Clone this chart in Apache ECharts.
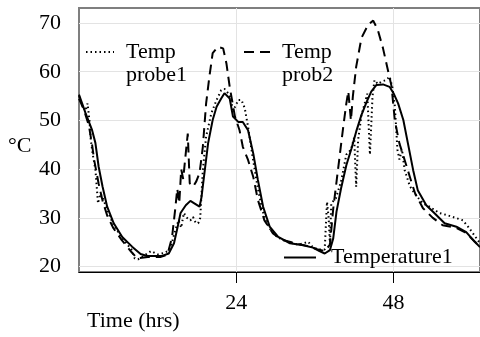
<!DOCTYPE html>
<html lang="en">
<head>
    <meta charset="UTF-8">
    <title>Temperature</title>
    <script src="https://cdn.jsdelivr.net/npm/echarts/dist/echarts.min.js"></script>
</head>
<body style="margin:0;background:#fff">

<div id="main" style="width: 480px;height: 337px"></div>

<script type="text/javascript">
    // time (hrs) and temperature readings
    var timeTemp1 = [0, 1, 2, 2.5, 3, 3.6, 4.3, 5.3, 6.6, 8.1, 9.4, 10.4, 12.7, 13.7, 14.5, 15, 15.5, 16.3, 17, 17.6,
        18.4, 18.7, 19.2, 19.7, 20.4, 21, 21.7, 22.2, 23, 23.5, 24.3, 25, 25.8, 26.6, 27.3, 28.1, 29.1, 30.4, 32.2, 34.2,
        35.7, 36.7, 37.5, 38.3, 38.8, 39.3, 40, 40.8, 41.6, 42.3, 43.1, 43.9, 44.6, 45.4, 46.4, 47.4, 48, 48.7, 49.5, 50.2,
        51, 51.7, 53, 54.3, 55.8, 57.6, 59.1, 60.4, 61.2];
    var temp1 = [55.3, 51.5, 48, 45.4, 40.5, 36.4, 32.3, 28.9, 26.1, 24.1, 22.6, 22.2, 22.2, 22.7, 24.8, 27.8, 31, 32.6, 33.5, 33,
        32.3, 34.3, 39.8, 45.3, 50.1, 52.8, 54.5, 55.6, 54.5, 50.8, 49.7, 49.7, 48, 43.2, 37.8, 32.3, 28.2, 26.1, 24.8, 24.4,
        23.9, 23.2, 22.7, 23.4, 25.8, 31.3, 36.1, 40.8, 44.3, 47.7, 51.1, 53.8, 55.9, 57.3, 57.4, 56.9, 55.6, 53.5, 50.1, 45.3,
        39.8, 35.7, 32.6, 30.9, 28.9, 28.2, 27.1, 25.1, 24];

    var timeProbe1 = [0, 0.5, 1, 1.3, 1.6, 1.8, 2.1, 2.5, 2.9, 3.3, 3.8, 4.5, 5.3, 6.5, 8, 8.5, 9, 10, 11, 12,
        13, 13.7, 14.2, 14.7, 15.2, 15.6, 16, 16.5, 17, 17.4, 17.8, 18.2, 18.5, 18.9, 19.4, 20.2, 21, 21.7, 22.2, 23,
        23.5, 23.9, 24.3, 24.8, 25.3, 25.8, 26.5, 27.3, 28, 29, 30.3, 32, 33.5, 35, 35.5, 36.5, 37.5, 37.85, 38.1, 38.3,
        38.5, 39.2, 40, 40.8, 41.5, 42, 42.3, 42.6, 43.1, 43.6, 44, 44.4, 44.8, 45.1, 45.6, 46.2, 46.9, 47.4, 47.8, 48.2,
        48.6, 48.9, 49.3, 49.7, 50.5, 51.5, 52.5, 53.5, 55, 56.1, 57.5, 58.6, 59.5, 60.3, 61.2];
    var probe1 = [55, 53, 52, 53.5, 50, 46, 43, 40, 33, 35, 33.5, 31, 28.5, 26, 23.5, 21.7, 21.5, 22.3, 23.2, 22.5,
        22.8, 23.3, 25, 27.5, 29.5, 28, 31, 30, 29.5, 30.2, 29, 28.9, 30, 39.8, 46.7, 51.5, 54.2, 56.2, 56.5, 55.2,
        52.1, 53, 54.2, 54.2, 52.5, 48.7, 42.5, 36, 31.5, 28, 26, 25, 24.5, 25.1, 24.2, 23.5, 23.5, 33.3, 30, 24.5,
        33, 34, 37.5, 43, 44, 46.5, 36.4, 46, 51, 53.5, 55.5, 43, 55, 58.3, 57.5, 58, 58.3, 59, 57, 53,
        44, 42, 44, 39.8, 36.5, 34.5, 33, 32.3, 31, 30.6, 30, 29.5, 28, 26.5, 24.8];

    var timeProbe2 = [0, 0.8, 1.5, 2, 2.3, 3, 3.6, 4.3, 5.2, 6.5, 8, 8.9, 10.5, 12.5, 13.5, 14.2, 14.7, 15, 15.3, 15.6,
        15.9, 16.2, 16.6, 16.9, 17.4, 17.9, 18.4, 18.9, 19.4, 19.9, 20.4, 21.2, 22, 22.5, 23, 23.8, 24.5, 25, 25.8, 26.6,
        27.3, 28.3, 29.6, 31, 33, 35, 36.5, 37.5, 38.3, 38.8, 39.3, 39.8, 40.3, 40.8, 41.1, 41.5, 41.8, 42.3, 43.1, 44.1,
        44.9, 45.6, 46.4, 47.2, 47.7, 48.2, 48.9, 49.7, 50.5, 51.3, 52.5, 54, 55.5, 57.5, 59, 60.5, 61.2];
    var probe2 = [54.5, 52, 49, 45, 42, 37, 33.5, 30.5, 28, 25.5, 23, 21.7, 22, 22, 22.5, 26, 32, 36, 33, 40,
        38, 42, 47.3, 37.1, 36.4, 37.5, 39.2, 44.6, 53.5, 59, 63.8, 65.1, 64.8, 61.7, 56.9, 50.8, 48, 44.6, 41.9, 38.4,
        33.7, 29.5, 26.8, 25.5, 24.8, 24.2, 23.5, 23.2, 24.5, 31.9, 37.4, 42.9, 48.4, 53.5, 56, 50, 55, 61, 66.9, 69.6,
        70.5, 68.6, 64.8, 60, 57, 50, 45.3, 41.9, 38.4, 35, 32, 30, 28.5, 28, 27, 25, 24];

    var xTicks = [24, 48];
    var yTicks = [20, 30, 40, 50, 60, 70];

    function pairs(xs, ys) {
        return xs.map(function (x, i) { return [x, ys[i]]; });
    }

    var font = 'Liberation Serif';
    var myChart = echarts.init(document.getElementById('main'));

    var legendText = {fontSize: 22, lineHeight: 23, fontFamily: font, color: '#000'};

    myChart.setOption({
        animation: false,
        backgroundColor: '#fff',
        title: [
            {text: '°C', left: 8, top: 135, padding: 0,
                textStyle: {fontSize: 22, fontWeight: 'normal', fontFamily: font, color: '#000'}},
            {text: 'Time (hrs)', left: 87, top: 310, padding: 0,
                textStyle: {fontSize: 22, fontWeight: 'normal', fontFamily: font, color: '#000'}}
        ],
        legend: [
            {
                // blank first line keeps the line sample level with "Temp"
                data: ['Temp probe1'], left: 85, top: 17.5, padding: 0, selectedMode: false,
                itemWidth: 28, itemHeight: 14, formatter: ' \nTemp\nprobe1',
                itemStyle: {opacity: 0},
                textStyle: Object.assign({padding: [0, 0, 0, 7]}, legendText)
            },
            {
                data: ['Temp prob2'], left: 243, top: 17.5, padding: 0, selectedMode: false,
                itemWidth: 29, itemHeight: 14, formatter: ' \nTemp\nprob2',
                itemStyle: {opacity: 0},
                textStyle: Object.assign({padding: [0, 0, 0, 4]}, legendText)
            },
            {
                data: ['Temperature1'], left: 283, top: 246, padding: 0, selectedMode: false,
                itemWidth: 32, itemHeight: 14,
                itemStyle: {opacity: 0},
                textStyle: Object.assign({padding: [0, 0, 0, 10]}, legendText)
            }
        ],
        grid: {
            left: 79, right: -1, top: 8, bottom: 65,
            show: true, borderColor: '#7f7f7f', borderWidth: 2
        },
        xAxis: {
            type: 'value', min: 0, max: 61.2,
            axisLine: {onZero: false, lineStyle: {color: '#000', width: 1}},
            axisTick: {customValues: xTicks, length: 11, lineStyle: {color: '#000'}},
            axisLabel: {customValues: xTicks, margin: 20, fontSize: 22, fontFamily: font, color: '#000'},
            splitLine: {show: true, lineStyle: {color: '#e3e3e3', width: 1}}
        },
        yAxis: {
            type: 'value', min: 18.9, max: 73.08,
            axisLine: {show: false},
            axisTick: {show: false, customValues: yTicks},
            axisLabel: {customValues: yTicks, margin: 18, fontSize: 22, fontFamily: font, color: '#000'},
            splitLine: {show: true, lineStyle: {color: '#e3e3e3', width: 1}}
        },
        series: [
            {
                name: 'Temp probe1',
                type: 'line',
                symbol: 'none',
                data: pairs(timeProbe1, probe1),
                lineStyle: {color: '#000', width: 2, type: [1.5, 3]},
                itemStyle: {color: '#000'}
            },
            {
                name: 'Temp prob2',
                type: 'line',
                symbol: 'none',
                data: pairs(timeProbe2, probe2),
                lineStyle: {color: '#000', width: 2, type: [10, 6]},
                itemStyle: {color: '#000'}
            },
            {
                name: 'Temperature1',
                type: 'line',
                symbol: 'none',
                data: pairs(timeTemp1, temp1),
                lineStyle: {color: '#000', width: 2},
                itemStyle: {color: '#000'}
            }
        ]
    });
</script>
</body>
</html>
